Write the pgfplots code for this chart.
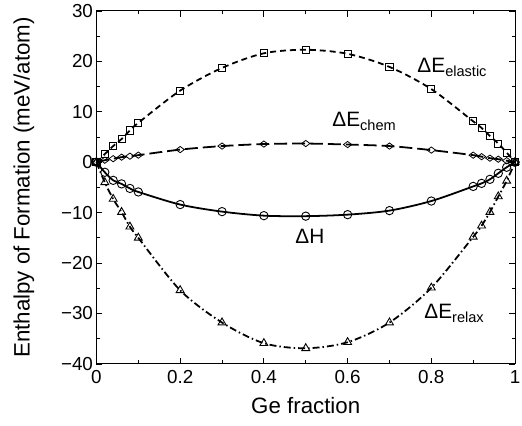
\documentclass[border=0pt]{standalone}
\usepackage{fontspec}
\setmainfont{Liberation Sans}
\usepackage{pgfplots}
\usepackage{pgfplotstable}
\pgfplotsset{compat=1.18}

\pgfplotstableread{
x y
0 0
0.02 1.6
0.04 3.2
0.06 4.6
0.08 6.3
0.1 7.8
0.2 14.2
0.3 18.7
0.4 21.6
0.5 22.3
0.6 21.5
0.7 18.9
0.8 14.5
0.9 8.1
0.92 6.8
0.94 5.2
0.96 3.7
0.98 1.9
1 0
}\elasticdata

\pgfplotstableread{
x y
0 0
0.02 0.4
0.04 0.7
0.06 1.0
0.08 1.2
0.1 1.4
0.2 2.5
0.3 3.2
0.4 3.6
0.5 3.7
0.6 3.5
0.7 3.2
0.8 2.4
0.9 1.4
0.92 1.1
0.94 0.8
0.96 0.6
0.98 0.3
1 0
}\chemdata

\pgfplotstableread{
x y
0 0
0.02 -2.0
0.04 -3.6
0.06 -4.3
0.08 -5.2
0.1 -5.9
0.2 -8.4
0.3 -9.8
0.4 -10.6
0.5 -10.7
0.6 -10.4
0.7 -9.6
0.8 -7.7
0.9 -4.8
0.92 -4.2
0.94 -3.4
0.96 -2.2
0.98 -1.0
1 0
}\enthdata

\pgfplotstableread{
x y
0 0
0.02 -4.0
0.04 -7.3
0.06 -9.9
0.08 -12.8
0.1 -15.0
0.2 -25.4
0.3 -31.8
0.4 -35.9
0.5 -36.9
0.6 -35.7
0.7 -31.8
0.8 -24.9
0.9 -14.8
0.92 -12.6
0.94 -9.9
0.96 -6.8
0.98 -3.7
1 0
}\relaxdata

\begin{document}
\begin{tikzpicture}
\begin{axis}[
    name=ax,
    scale only axis,
    width=421bp, height=355bp,
    xmin=0, xmax=1, ymin=-40, ymax=30,
    xtick={0,0.2,0.4,0.6,0.8,1},
    xticklabels={0,0.2,0.4,0.6,0.8,1},
    ytick={-40,-30,-20,-10,0,10,20,30},
    yticklabels={−40,−30,−20,−10,0,10,20,30},
    minor x tick num=1, minor y tick num=1,
    major tick length=6bp, minor tick length=3.5bp,
    tick style={black, line width=0.8pt},
    axis line style={line width=0.9pt},
    tick label style={font=\fontsize{19}{22}\selectfont},
    xticklabel style={yshift=-3bp},
    label style={font=\fontsize{22.5}{26}\selectfont},
    xlabel={Ge fraction},
    ylabel={Enthalpy of Formation (meV/atom)},
    xlabel style={yshift=-7bp},
    ylabel style={yshift=20bp},
    every axis plot/.append style={black, line width=1.8pt, smooth},
    clip=false,
]
\addplot[dash pattern=on 6bp off 4bp, mark=square, mark size=3.6bp,
    mark options={solid, line width=0.9pt}] table {\elasticdata};
\addplot[dash pattern=on 13bp off 5bp, mark=diamond, mark size=4.2bp,
    mark options={solid, line width=0.8pt, rotate=90}] table {\chemdata};
\addplot[solid, mark=o, mark size=4.2bp,
    mark options={solid, line width=0.9pt}] table {\enthdata};
\addplot[dash pattern=on 7bp off 3bp on 1.5bp off 3bp, mark=triangle, mark size=4.6bp,
    mark options={solid, line width=0.9pt}] table {\relaxdata};
\node[font=\fontsize{21}{24}\selectfont] at (axis cs:0.85,18.8) {ΔE\textsubscript{elastic}};
\node[font=\fontsize{21}{24}\selectfont] at (axis cs:0.64,8.1) {ΔE\textsubscript{chem}};
\node[font=\fontsize{21}{24}\selectfont] at (axis cs:0.51,-14.8) {ΔH};
\node[font=\fontsize{21}{24}\selectfont] at (axis cs:0.855,-30.0) {ΔE\textsubscript{relax}};
\end{axis}
\pgfresetboundingbox
\path ([shift={(-97bp,-62bp)}]ax.south west) rectangle ([shift={(7bp,11bp)}]ax.north east);
\end{tikzpicture}
\end{document}
